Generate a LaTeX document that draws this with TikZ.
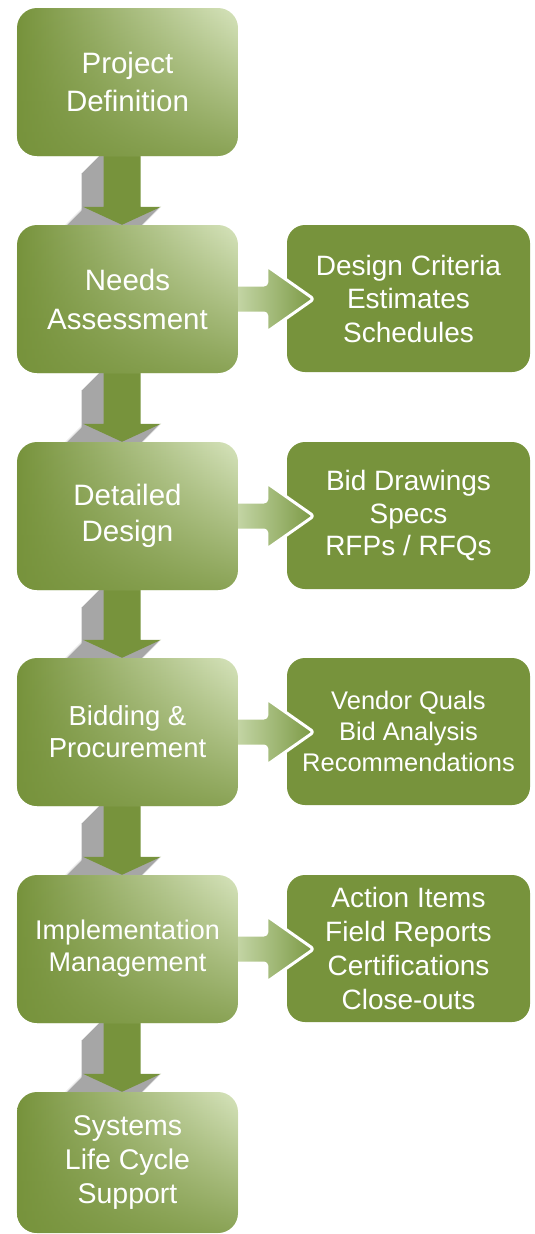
\documentclass[tikz,border=0pt]{standalone}
\usepackage{fontspec}
\setmainfont{Liberation Sans}
\usetikzlibrary{calc,fadings}
\definecolor{olv}{HTML}{77933C}
\definecolor{olvlight}{HTML}{D7E4BD}
\definecolor{olvmid}{HTML}{A6BD7E}
\definecolor{arrlight}{HTML}{C8D9AB}
\definecolor{arrdark}{HTML}{7B9944}
\definecolor{shadowgray}{HTML}{A6A6A6}
\pgfdeclarelayer{bg}\pgfdeclarelayer{mid}\pgfsetlayers{bg,mid,main}
\tikzfading[name=fadebottom, top color=transparent!100, middle color=transparent!100, bottom color=transparent!20]
\newcommand\dnarrowfill[4]{%
  \fill[#4] let \p1=(#1.south), \p2=(#2.north) in
   (\x1-24pt-#3pt, \y1+5pt-#3pt) -- (\x1+13pt-#3pt, \y1+5pt-#3pt)
   -- (\x1+13pt-#3pt, \y2+18pt-#3pt) -- (\x1+33.5pt-#3pt, \y2+18pt-#3pt)
   -- (\x1-5.5pt-#3pt, \y2-#3pt)
   -- (\x1-44.5pt-#3pt, \y2+18pt-#3pt) -- (\x1-24pt-#3pt, \y2+18pt-#3pt) -- cycle;}
\newcommand\rtarrow[2]{%
  \path[rarrow] let \p1=(#1.east), \p2=(#2.west) in
   (\x1-6pt,\y1+14pt) -- (\x2-20pt,\y1+14pt) -- (\x2-20pt,\y1+33pt)
   -- (\x2+27pt,\y1) -- (\x2-20pt,\y1-33pt) -- (\x2-20pt,\y1-14pt)
   -- (\x1-6pt,\y1-14pt) -- cycle;}
\begin{document}
\begin{tikzpicture}[x=1pt,y=-1pt,
  lbox/.style={rounded corners=20pt, minimum width=221pt, minimum height=148pt,
    inner sep=0pt, text=white, align=center,
    left color=olv, middle color=olvmid, right color=olvlight,
    postaction={fill=olv, path fading=fadebottom}},
  rbox/.style={rounded corners=18pt, minimum width=243pt, minimum height=147pt,
    inner sep=0pt, text=white, align=center, fill=olv},
  rarrow/.style={left color=arrlight, right color=arrdark, draw=white,
    line width=3pt, rounded corners=3pt, line join=round}]
\useasboundingbox (0,0) rectangle (535,1234);

% left column
\node[lbox, font=\fontsize{29.5}{38}\selectfont] (b1) at (127.5,82) {Project\\Definition};
\node[lbox, font=\fontsize{29.5}{39}\selectfont] (b2) at (127.5,299) {Needs\\Assessment};
\node[lbox, font=\fontsize{29.5}{36}\selectfont] (b3) at (127.5,516) {Detailed\\Design};
\node[lbox, font=\fontsize{27.5}{32}\selectfont] (b4) at (127.5,732) {Bidding \&\\Procurement};
\node[lbox, font=\fontsize{27}{32}\selectfont] (b5) at (127.5,949) {Implementation\\Management};
\node[lbox, minimum height=141pt, font=\fontsize{28.5}{34}\selectfont] (b6) at (127.5,1162.5) {Systems\\Life Cycle\\Support};

% right column
\begin{pgfonlayer}{bg}
\node[rbox, font=\fontsize{28}{33.5}\selectfont] (r2) at (408.5,298.5) {Design Criteria\\Estimates\\Schedules};
\node[rbox, font=\fontsize{28}{32.5}\selectfont] (r3) at (408.5,515.5) {Bid Drawings\\Specs\\RFPs / RFQs};
\node[rbox, font=\fontsize{25.5}{31}\selectfont] (r4) at (408.5,731.5) {Vendor Quals\\Bid Analysis\\Recommendations};
\node[rbox, font=\fontsize{28}{34}\selectfont] (r5) at (408.5,948.5) {Action Items\\Field Reports\\Certifications\\Close-outs};
% shadows of the down arrows
\foreach \a/\b in {b1/b2,b2/b3,b3/b4,b4/b5,b5/b6}{
  \foreach \i in {22,21,...,1}{\dnarrowfill{\a}{\b}{\i}{shadowgray}}
}
\end{pgfonlayer}

\begin{pgfonlayer}{mid}
\foreach \a/\b in {b1/b2,b2/b3,b3/b4,b4/b5,b5/b6}{\dnarrowfill{\a}{\b}{0}{olv}}
\rtarrow{b2}{r2}
\rtarrow{b3}{r3}
\rtarrow{b4}{r4}
\rtarrow{b5}{r5}
\end{pgfonlayer}
\end{tikzpicture}
\end{document}
